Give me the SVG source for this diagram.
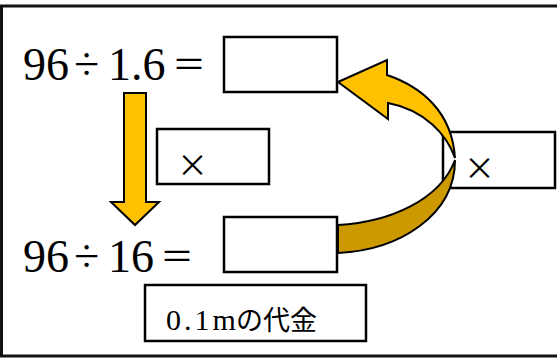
<svg xmlns="http://www.w3.org/2000/svg" width="557" height="360" viewBox="0 0 557 360">
<style>
.box{fill:#fff;stroke:#000;stroke-width:2.5}
.eq{font-family:"Liberation Serif","Noto Sans CJK JP",serif;font-size:46px;fill:#000}
.eqs{font-family:"Noto Sans CJK JP",sans-serif;font-size:34px;fill:#000}
.x{font-family:"Noto Sans CJK JP",sans-serif;font-size:31px;fill:#000}
.lat{font-family:"Liberation Serif",serif;font-size:30px;fill:#000;letter-spacing:3px}
.jp{font-family:"Noto Sans CJK JP",sans-serif;font-size:27px;fill:#000}
.arr{stroke:#000;stroke-width:2;stroke-linejoin:miter}
</style>
<rect width="557" height="360" fill="#fff"/>
<g id="frame"><rect x="1.5" y="6" width="570" height="350" fill="none" stroke="#111" stroke-width="3"/></g>
<g id="eq1"><text class="eq" y="80"><tspan x="23">96</tspan><tspan x="74">÷</tspan><tspan x="108">1.6</tspan></text><text class="eqs" x="172" y="77">＝</text></g>
<g id="eq2"><text class="eq" y="272"><tspan x="23">96</tspan><tspan x="74">÷</tspan><tspan x="108">16</tspan></text><text class="eqs" x="160" y="269">＝</text></g>
<g id="ans1"><rect class="box" x="224" y="37" width="113" height="55"/></g>
<g id="ans2"><rect class="box" x="224" y="217" width="113" height="55"/></g>
<g id="times-left"><rect class="box" x="157" y="129" width="112" height="55"/><text class="x" x="177" y="176">×</text></g>
<g id="times-right"><rect class="box" x="443" y="132" width="112" height="56"/><text class="x" x="464" y="179">×</text></g>
<g id="label"><rect class="box" x="145" y="285" width="221" height="56"/><text y="330"><tspan class="lat" x="166">0.1m</tspan><tspan class="jp" x="236">の代金</tspan></text></g>
<g id="connectors">
<path class="arr" fill="#FFC000" d="M124,93 L146,93 L146,202 L159,202 L135,225 L111,202 L124,202 Z"/>
<path class="arr" fill="#CC9900" d="M455,160 C455,215 400,250 338,253 L338,225 C390,222 440,200 455,160 Z"/>
<path class="arr" fill="#FFC000" d="M338,82 L387,60 L387,75 C422,87 452,112 455,158 C447,135 425,110 388,103 L388,119 Z"/>
</g>
</svg>
